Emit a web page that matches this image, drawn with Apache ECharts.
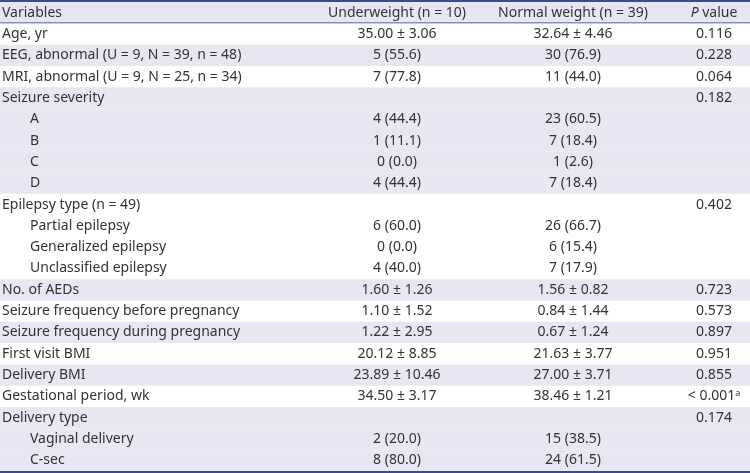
<!DOCTYPE html>
<html><head><meta charset="utf-8">
<script src="https://cdn.jsdelivr.net/npm/echarts@6/dist/echarts.min.js"></script>
<style>html,body{margin:0;padding:0;background:#fff}#c{width:750px;height:473px}</style>
</head><body><div id="c"></div>
<script>
const headers = ['Variables', 'Underweight (n = 10)', 'Normal weight (n = 39)', 'P value'];
const variables = [
  'Age, yr', 'EEG, abnormal (U = 9, N = 39, n = 48)', 'MRI, abnormal (U = 9, N = 25, n = 34)',
  'Seizure severity', 'A', 'B', 'C', 'D',
  'Epilepsy type (n = 49)', 'Partial epilepsy', 'Generalized epilepsy', 'Unclassified epilepsy',
  'No. of AEDs', 'Seizure frequency before pregnancy', 'Seizure frequency during pregnancy',
  'First visit BMI', 'Delivery BMI', 'Gestational period, wk',
  'Delivery type', 'Vaginal delivery', 'C-sec'
];
const levels = [0, 0, 0, 0, 1, 1, 1, 1, 0, 1, 1, 1, 0, 0, 0, 0, 0, 0, 0, 1, 1];
const underweight = [
  '35.00 ± 3.06', '5 (55.6)', '7 (77.8)', '', '4 (44.4)', '1 (11.1)', '0 (0.0)', '4 (44.4)',
  '', '6 (60.0)', '0 (0.0)', '4 (40.0)', '1.60 ± 1.26', '1.10 ± 1.52', '1.22 ± 2.95',
  '20.12 ± 8.85', '23.89 ± 10.46', '34.50 ± 3.17', '', '2 (20.0)', '8 (80.0)'
];
const normalWeight = [
  '32.64 ± 4.46', '30 (76.9)', '11 (44.0)', '', '23 (60.5)', '7 (18.4)', '1 (2.6)', '7 (18.4)',
  '', '26 (66.7)', '6 (15.4)', '7 (17.9)', '1.56 ± 0.82', '0.84 ± 1.44', '0.67 ± 1.24',
  '21.63 ± 3.77', '27.00 ± 3.71', '38.46 ± 1.21', '', '15 (38.5)', '24 (61.5)'
];
const pValues = [
  '0.116', '0.228', '0.064', '0.182', '', '', '', '',
  '0.402', '', '', '', '0.723', '0.573', '0.897',
  '0.951', '0.855', '< 0.001', '0.174', '', ''
];
const pFootnotes = ['', '', '', '', '', '', '', '', '', '', '', '', '', '', '', '', '', 'a', '', '', ''];

// Layout / style
const FONT = '"Noto Sans", sans-serif';
const FS = 14;
const TEXT = '#333333';
const SHADE = '#e7e7f3';
const BORDER = '#3d4a8e';
const colX = { left: 2, indent: 30, under: 397, normal: 573, p: 714 };

const nRows = variables.length + 1;
const rowCats = [];
for (let i = 0; i < nRows; i++) rowCats.push(String(i));

// group shading: alternate on every top-level row
const shade = [true];
let g = -1;
for (let i = 0; i < variables.length; i++) {
  if (levels[i] === 0) g++;
  shade.push(g % 2 === 1);
}

const chart = echarts.init(document.getElementById('c'), null, { renderer: 'canvas' });

function txt(text, x, y, align, extra) {
  return {
    type: 'text',
    style: Object.assign({
      text: text, x: x, y: y,
      align: align, verticalAlign: 'middle',
      textAlign: align, textVerticalAlign: 'middle',
      fill: TEXT, font: FS + 'px ' + FONT,
      fontSize: FS, fontFamily: FONT
    }, extra || {})
  };
}

function renderItem(params, api) {
  const r = api.value(0);
  const c = api.coord([0, r]);
  const h = api.size([0, 1])[1];
  const x0 = api.coord([0, r])[0];
  const x1 = api.coord([750, r])[0];
  const y = c[1];
  const top = y - h / 2, bot = y + h / 2;
  const children = [];
  if (shade[r]) {
    children.push({ type: 'rect', shape: { x: x0, y: top, width: x1 - x0, height: h },
      style: { fill: SHADE } });
  }
  const X = v => api.coord([v, r])[0];
  if (r === 0) {
    children.push(txt(headers[0], X(colX.left), y, 'left'));
    children.push(txt(headers[1], X(colX.under), y, 'center'));
    children.push(txt(headers[2], X(colX.normal), y, 'center'));
    children.push(txt('{i|P} value', X(colX.p), y, 'center', {
      rich: { i: { fontStyle: 'italic', fontSize: FS, fontFamily: FONT, fill: TEXT } }
    }));
    children.push({ type: 'line', shape: { x1: x0, y1: top - 1, x2: x1, y2: top - 1 },
      style: { stroke: BORDER, lineWidth: 2 } });
    children.push({ type: 'line', shape: { x1: x0, y1: bot - 0.5, x2: x1, y2: bot - 0.5 },
      style: { stroke: '#5a67a3', lineWidth: 1 } });
  } else {
    const i = r - 1;
    children.push(txt(variables[i], X(levels[i] ? colX.indent : colX.left), y, 'left'));
    children.push(txt(underweight[i], X(colX.under), y, 'center'));
    children.push(txt(normalWeight[i], X(colX.normal), y, 'center'));
    if (pFootnotes[i]) {
      children.push(txt(pValues[i] + '{s|' + pFootnotes[i] + '}', X(colX.p), y, 'center', {
        rich: { s: { fontSize: 9, fontFamily: FONT, fill: TEXT, verticalAlign: 'top', padding: [0, 0, 6, 0] } }
      }));
    } else {
      children.push(txt(pValues[i], X(colX.p), y, 'center'));
    }
    if (r === nRows - 1) {
      children.push({ type: 'line', shape: { x1: x0, y1: bot + 1, x2: x1, y2: bot + 1 },
        style: { stroke: BORDER, lineWidth: 2 } });
    }
  }
  return { type: 'group', children: children };
}

chart.setOption({
  animation: false,
  grid: { left: 0, right: 0, top: 2, bottom: 2 },
  xAxis: { type: 'value', min: 0, max: 750, show: false },
  yAxis: { type: 'category', data: rowCats, inverse: true, show: false },
  series: [{
    type: 'custom',
    renderItem: renderItem,
    data: rowCats.map((c, i) => [i]),
    encode: { y: 0 },
    clip: false
  }]
});
</script></body></html>
